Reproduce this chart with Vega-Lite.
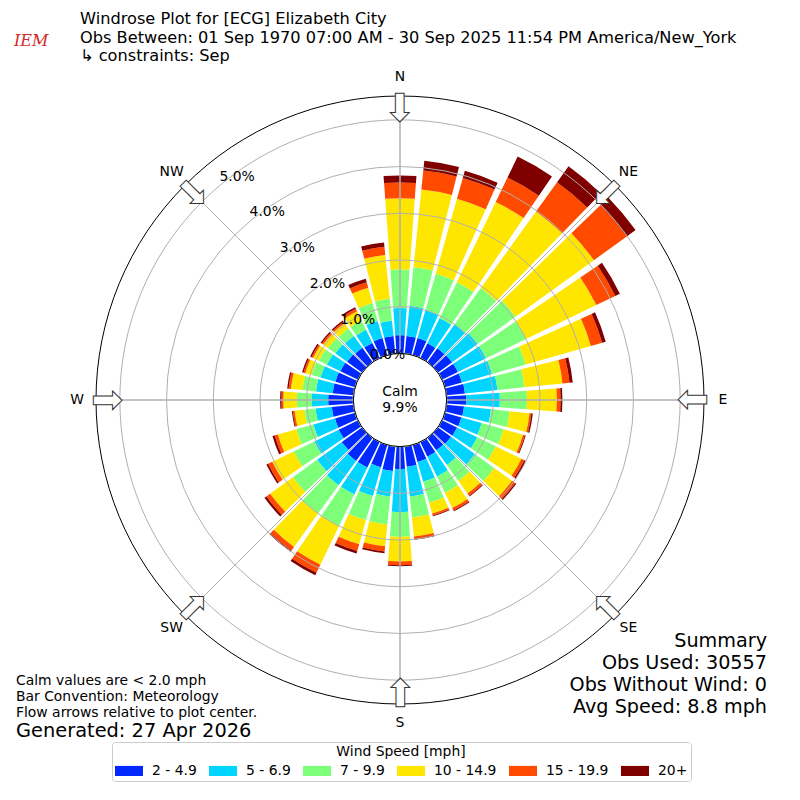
{
  "$schema": "https://vega.github.io/schema/vega-lite/v6.json",
  "width": 800,
  "height": 800,
  "autosize": {"type": "none"},
  "padding": 0,
  "background": "white",
  "config": {
    "view": {"stroke": null},
    "font": "DejaVu Sans",
    "text": {"font": "DejaVu Sans", "fontSize": 13.9, "color": "black"}
  },
  "datasets": {
    "rose": [
      {"dir": 0, "speed": "2 - 4.9", "pct": 0.39}, {"dir": 0, "speed": "5 - 6.9", "pct": 0.58}, {"dir": 0, "speed": "7 - 9.9", "pct": 0.83}, {"dir": 0, "speed": "10 - 14.9", "pct": 1.52}, {"dir": 0, "speed": "15 - 19.9", "pct": 0.34}, {"dir": 0, "speed": "20+", "pct": 0.15},
      {"dir": 10, "speed": "2 - 4.9", "pct": 0.38}, {"dir": 10, "speed": "5 - 6.9", "pct": 0.65}, {"dir": 10, "speed": "7 - 9.9", "pct": 0.83}, {"dir": 10, "speed": "10 - 14.9", "pct": 1.67}, {"dir": 10, "speed": "15 - 19.9", "pct": 0.41}, {"dir": 10, "speed": "20+", "pct": 0.21},
      {"dir": 20, "speed": "2 - 4.9", "pct": 0.38}, {"dir": 20, "speed": "5 - 6.9", "pct": 0.62}, {"dir": 20, "speed": "7 - 9.9", "pct": 0.81}, {"dir": 20, "speed": "10 - 14.9", "pct": 1.67}, {"dir": 20, "speed": "15 - 19.9", "pct": 0.46}, {"dir": 20, "speed": "20+", "pct": 0.16},
      {"dir": 30, "speed": "2 - 4.9", "pct": 0.35}, {"dir": 30, "speed": "5 - 6.9", "pct": 0.60}, {"dir": 30, "speed": "7 - 9.9", "pct": 0.85}, {"dir": 30, "speed": "10 - 14.9", "pct": 1.91}, {"dir": 30, "speed": "15 - 19.9", "pct": 0.58}, {"dir": 30, "speed": "20+", "pct": 0.50},
      {"dir": 40, "speed": "2 - 4.9", "pct": 0.37}, {"dir": 40, "speed": "5 - 6.9", "pct": 0.63}, {"dir": 40, "speed": "7 - 9.9", "pct": 0.96}, {"dir": 40, "speed": "10 - 14.9", "pct": 2.02}, {"dir": 40, "speed": "15 - 19.9", "pct": 0.77}, {"dir": 40, "speed": "20+", "pct": 0.42},
      {"dir": 50, "speed": "2 - 4.9", "pct": 0.38}, {"dir": 50, "speed": "5 - 6.9", "pct": 0.67}, {"dir": 50, "speed": "7 - 9.9", "pct": 1.00}, {"dir": 50, "speed": "10 - 14.9", "pct": 2.07}, {"dir": 50, "speed": "15 - 19.9", "pct": 0.87}, {"dir": 50, "speed": "20+", "pct": 0.23},
      {"dir": 60, "speed": "2 - 4.9", "pct": 0.38}, {"dir": 60, "speed": "5 - 6.9", "pct": 0.67}, {"dir": 60, "speed": "7 - 9.9", "pct": 0.95}, {"dir": 60, "speed": "10 - 14.9", "pct": 1.67}, {"dir": 60, "speed": "15 - 19.9", "pct": 0.45}, {"dir": 60, "speed": "20+", "pct": 0.11},
      {"dir": 70, "speed": "2 - 4.9", "pct": 0.38}, {"dir": 70, "speed": "5 - 6.9", "pct": 0.67}, {"dir": 70, "speed": "7 - 9.9", "pct": 0.75}, {"dir": 70, "speed": "10 - 14.9", "pct": 1.45}, {"dir": 70, "speed": "15 - 19.9", "pct": 0.25}, {"dir": 70, "speed": "20+", "pct": 0.08},
      {"dir": 80, "speed": "2 - 4.9", "pct": 0.40}, {"dir": 80, "speed": "5 - 6.9", "pct": 0.70}, {"dir": 80, "speed": "7 - 9.9", "pct": 0.58}, {"dir": 80, "speed": "10 - 14.9", "pct": 0.82}, {"dir": 80, "speed": "15 - 19.9", "pct": 0.15}, {"dir": 80, "speed": "20+", "pct": 0.07},
      {"dir": 90, "speed": "2 - 4.9", "pct": 0.42}, {"dir": 90, "speed": "5 - 6.9", "pct": 0.72}, {"dir": 90, "speed": "7 - 9.9", "pct": 0.58}, {"dir": 90, "speed": "10 - 14.9", "pct": 0.64}, {"dir": 90, "speed": "15 - 19.9", "pct": 0.08}, {"dir": 90, "speed": "20+", "pct": 0.04},
      {"dir": 100, "speed": "2 - 4.9", "pct": 0.38}, {"dir": 100, "speed": "5 - 6.9", "pct": 0.58}, {"dir": 100, "speed": "7 - 9.9", "pct": 0.40}, {"dir": 100, "speed": "10 - 14.9", "pct": 0.43}, {"dir": 100, "speed": "15 - 19.9", "pct": 0.04}, {"dir": 100, "speed": "20+", "pct": 0.03},
      {"dir": 110, "speed": "2 - 4.9", "pct": 0.37}, {"dir": 110, "speed": "5 - 6.9", "pct": 0.45}, {"dir": 110, "speed": "7 - 9.9", "pct": 0.49}, {"dir": 110, "speed": "10 - 14.9", "pct": 0.43}, {"dir": 110, "speed": "15 - 19.9", "pct": 0.04}, {"dir": 110, "speed": "20+", "pct": 0.02},
      {"dir": 120, "speed": "2 - 4.9", "pct": 0.36}, {"dir": 120, "speed": "5 - 6.9", "pct": 0.48}, {"dir": 120, "speed": "7 - 9.9", "pct": 0.44}, {"dir": 120, "speed": "10 - 14.9", "pct": 0.61}, {"dir": 120, "speed": "15 - 19.9", "pct": 0.07}, {"dir": 120, "speed": "20+", "pct": 0.04},
      {"dir": 130, "speed": "2 - 4.9", "pct": 0.35}, {"dir": 130, "speed": "5 - 6.9", "pct": 0.63}, {"dir": 130, "speed": "7 - 9.9", "pct": 0.51}, {"dir": 130, "speed": "10 - 14.9", "pct": 0.47}, {"dir": 130, "speed": "15 - 19.9", "pct": 0.08}, {"dir": 130, "speed": "20+", "pct": 0.03},
      {"dir": 140, "speed": "2 - 4.9", "pct": 0.33}, {"dir": 140, "speed": "5 - 6.9", "pct": 0.39}, {"dir": 140, "speed": "7 - 9.9", "pct": 0.42}, {"dir": 140, "speed": "10 - 14.9", "pct": 0.33}, {"dir": 140, "speed": "15 - 19.9", "pct": 0.06}, {"dir": 140, "speed": "20+", "pct": 0.02},
      {"dir": 150, "speed": "2 - 4.9", "pct": 0.35}, {"dir": 150, "speed": "5 - 6.9", "pct": 0.47}, {"dir": 150, "speed": "7 - 9.9", "pct": 0.39}, {"dir": 150, "speed": "10 - 14.9", "pct": 0.36}, {"dir": 150, "speed": "15 - 19.9", "pct": 0.06}, {"dir": 150, "speed": "20+", "pct": 0.02},
      {"dir": 160, "speed": "2 - 4.9", "pct": 0.38}, {"dir": 160, "speed": "5 - 6.9", "pct": 0.44}, {"dir": 160, "speed": "7 - 9.9", "pct": 0.47}, {"dir": 160, "speed": "10 - 14.9", "pct": 0.24}, {"dir": 160, "speed": "15 - 19.9", "pct": 0.04}, {"dir": 160, "speed": "20+", "pct": 0.02},
      {"dir": 170, "speed": "2 - 4.9", "pct": 0.44}, {"dir": 170, "speed": "5 - 6.9", "pct": 0.64}, {"dir": 170, "speed": "7 - 9.9", "pct": 0.45}, {"dir": 170, "speed": "10 - 14.9", "pct": 0.41}, {"dir": 170, "speed": "15 - 19.9", "pct": 0.05}, {"dir": 170, "speed": "20+", "pct": 0.02},
      {"dir": 180, "speed": "2 - 4.9", "pct": 0.48}, {"dir": 180, "speed": "5 - 6.9", "pct": 0.92}, {"dir": 180, "speed": "7 - 9.9", "pct": 0.53}, {"dir": 180, "speed": "10 - 14.9", "pct": 0.53}, {"dir": 180, "speed": "15 - 19.9", "pct": 0.08}, {"dir": 180, "speed": "20+", "pct": 0.02},
      {"dir": 190, "speed": "2 - 4.9", "pct": 0.53}, {"dir": 190, "speed": "5 - 6.9", "pct": 0.55}, {"dir": 190, "speed": "7 - 9.9", "pct": 0.60}, {"dir": 190, "speed": "10 - 14.9", "pct": 0.47}, {"dir": 190, "speed": "15 - 19.9", "pct": 0.11}, {"dir": 190, "speed": "20+", "pct": 0.04},
      {"dir": 200, "speed": "2 - 4.9", "pct": 0.50}, {"dir": 200, "speed": "5 - 6.9", "pct": 0.64}, {"dir": 200, "speed": "7 - 9.9", "pct": 0.54}, {"dir": 200, "speed": "10 - 14.9", "pct": 0.53}, {"dir": 200, "speed": "15 - 19.9", "pct": 0.15}, {"dir": 200, "speed": "20+", "pct": 0.06},
      {"dir": 210, "speed": "2 - 4.9", "pct": 0.61}, {"dir": 210, "speed": "5 - 6.9", "pct": 0.64}, {"dir": 210, "speed": "7 - 9.9", "pct": 0.75}, {"dir": 210, "speed": "10 - 14.9", "pct": 0.92}, {"dir": 210, "speed": "15 - 19.9", "pct": 0.19}, {"dir": 210, "speed": "20+", "pct": 0.06},
      {"dir": 220, "speed": "2 - 4.9", "pct": 0.61}, {"dir": 220, "speed": "5 - 6.9", "pct": 0.64}, {"dir": 220, "speed": "7 - 9.9", "pct": 0.75}, {"dir": 220, "speed": "10 - 14.9", "pct": 0.88}, {"dir": 220, "speed": "15 - 19.9", "pct": 0.10}, {"dir": 220, "speed": "20+", "pct": 0.03},
      {"dir": 230, "speed": "2 - 4.9", "pct": 0.54}, {"dir": 230, "speed": "5 - 6.9", "pct": 0.65}, {"dir": 230, "speed": "7 - 9.9", "pct": 0.64}, {"dir": 230, "speed": "10 - 14.9", "pct": 0.60}, {"dir": 230, "speed": "15 - 19.9", "pct": 0.10}, {"dir": 230, "speed": "20+", "pct": 0.05},
      {"dir": 240, "speed": "2 - 4.9", "pct": 0.46}, {"dir": 240, "speed": "5 - 6.9", "pct": 0.58}, {"dir": 240, "speed": "7 - 9.9", "pct": 0.49}, {"dir": 240, "speed": "10 - 14.9", "pct": 0.51}, {"dir": 240, "speed": "15 - 19.9", "pct": 0.10}, {"dir": 240, "speed": "20+", "pct": 0.04},
      {"dir": 250, "speed": "2 - 4.9", "pct": 0.45}, {"dir": 250, "speed": "5 - 6.9", "pct": 0.48}, {"dir": 250, "speed": "7 - 9.9", "pct": 0.38}, {"dir": 250, "speed": "10 - 14.9", "pct": 0.41}, {"dir": 250, "speed": "15 - 19.9", "pct": 0.07}, {"dir": 250, "speed": "20+", "pct": 0.05},
      {"dir": 260, "speed": "2 - 4.9", "pct": 0.47}, {"dir": 260, "speed": "5 - 6.9", "pct": 0.35}, {"dir": 260, "speed": "7 - 9.9", "pct": 0.24}, {"dir": 260, "speed": "10 - 14.9", "pct": 0.21}, {"dir": 260, "speed": "15 - 19.9", "pct": 0.04}, {"dir": 260, "speed": "20+", "pct": 0.02},
      {"dir": 270, "speed": "2 - 4.9", "pct": 0.54}, {"dir": 270, "speed": "5 - 6.9", "pct": 0.35}, {"dir": 270, "speed": "7 - 9.9", "pct": 0.32}, {"dir": 270, "speed": "10 - 14.9", "pct": 0.29}, {"dir": 270, "speed": "15 - 19.9", "pct": 0.04}, {"dir": 270, "speed": "20+", "pct": 0.03},
      {"dir": 280, "speed": "2 - 4.9", "pct": 0.45}, {"dir": 280, "speed": "5 - 6.9", "pct": 0.36}, {"dir": 280, "speed": "7 - 9.9", "pct": 0.29}, {"dir": 280, "speed": "10 - 14.9", "pct": 0.25}, {"dir": 280, "speed": "15 - 19.9", "pct": 0.05}, {"dir": 280, "speed": "20+", "pct": 0.03},
      {"dir": 290, "speed": "2 - 4.9", "pct": 0.44}, {"dir": 290, "speed": "5 - 6.9", "pct": 0.33}, {"dir": 290, "speed": "7 - 9.9", "pct": 0.20}, {"dir": 290, "speed": "10 - 14.9", "pct": 0.14}, {"dir": 290, "speed": "15 - 19.9", "pct": 0.04}, {"dir": 290, "speed": "20+", "pct": 0.03},
      {"dir": 300, "speed": "2 - 4.9", "pct": 0.42}, {"dir": 300, "speed": "5 - 6.9", "pct": 0.32}, {"dir": 300, "speed": "7 - 9.9", "pct": 0.19}, {"dir": 300, "speed": "10 - 14.9", "pct": 0.14}, {"dir": 300, "speed": "15 - 19.9", "pct": 0.04}, {"dir": 300, "speed": "20+", "pct": 0.03},
      {"dir": 310, "speed": "2 - 4.9", "pct": 0.40}, {"dir": 310, "speed": "5 - 6.9", "pct": 0.31}, {"dir": 310, "speed": "7 - 9.9", "pct": 0.19}, {"dir": 310, "speed": "10 - 14.9", "pct": 0.13}, {"dir": 310, "speed": "15 - 19.9", "pct": 0.04}, {"dir": 310, "speed": "20+", "pct": 0.03},
      {"dir": 320, "speed": "2 - 4.9", "pct": 0.38}, {"dir": 320, "speed": "5 - 6.9", "pct": 0.31}, {"dir": 320, "speed": "7 - 9.9", "pct": 0.20}, {"dir": 320, "speed": "10 - 14.9", "pct": 0.14}, {"dir": 320, "speed": "15 - 19.9", "pct": 0.04}, {"dir": 320, "speed": "20+", "pct": 0.03},
      {"dir": 330, "speed": "2 - 4.9", "pct": 0.36}, {"dir": 330, "speed": "5 - 6.9", "pct": 0.31}, {"dir": 330, "speed": "7 - 9.9", "pct": 0.22}, {"dir": 330, "speed": "10 - 14.9", "pct": 0.22}, {"dir": 330, "speed": "15 - 19.9", "pct": 0.06}, {"dir": 330, "speed": "20+", "pct": 0.04},
      {"dir": 340, "speed": "2 - 4.9", "pct": 0.38}, {"dir": 340, "speed": "5 - 6.9", "pct": 0.38}, {"dir": 340, "speed": "7 - 9.9", "pct": 0.40}, {"dir": 340, "speed": "10 - 14.9", "pct": 0.34}, {"dir": 340, "speed": "15 - 19.9", "pct": 0.12}, {"dir": 340, "speed": "20+", "pct": 0.08},
      {"dir": 350, "speed": "2 - 4.9", "pct": 0.38}, {"dir": 350, "speed": "5 - 6.9", "pct": 0.33}, {"dir": 350, "speed": "7 - 9.9", "pct": 0.47}, {"dir": 350, "speed": "10 - 14.9", "pct": 0.94}, {"dir": 350, "speed": "15 - 19.9", "pct": 0.18}, {"dir": 350, "speed": "20+", "pct": 0.09}
    ],
    "compass": [
      {"dir": 0, "name": "N"}, {"dir": 45, "name": "NE"}, {"dir": 90, "name": "E"}, {"dir": 135, "name": "SE"},
      {"dir": 180, "name": "S"}, {"dir": 225, "name": "SW"}, {"dir": 270, "name": "W"}, {"dir": 315, "name": "NW"}
    ],
    "rings": [
      {"level": 0, "label": "0.0%"}, {"level": 1, "label": "1.0%"}, {"level": 2, "label": "2.0%"},
      {"level": 3, "label": "3.0%"}, {"level": 4, "label": "4.0%"}, {"level": 5, "label": "5.0%"}
    ]
  },
  "layer": [
    {
      "data": {"name": "rose"},
      "transform": [{"stack": "pct", "groupby": ["dir"], "as": ["r0", "r1"]}],
      "mark": {"type": "arc", "thetaOffset": -0.0733, "theta2Offset": 0.0733},
      "encoding": {
        "theta": {"field": "dir", "type": "quantitative", "scale": {"domain": [0, 360], "range": [0, 6.283185]}},
        "theta2": {"field": "dir"},
        "radius": {"field": "r1", "type": "quantitative", "scale": {"type": "linear", "domain": [0, 5.51], "range": [46.6, 304], "zero": false}},
        "radius2": {"field": "r0"},
        "color": {
          "field": "speed",
          "type": "nominal",
          "scale": {
            "domain": ["2 - 4.9", "5 - 6.9", "7 - 9.9", "10 - 14.9", "15 - 19.9", "20+"],
            "range": ["#0028ff", "#00d4ff", "#7dff7a", "#ffe600", "#ff4a00", "#800000"]
          },
          "legend": {
            "title": "Wind Speed [mph]",
            "orient": "none",
            "legendX": 112,
            "legendY": 742,
            "direction": "horizontal",
            "titleAnchor": "middle",
            "titleFontWeight": "normal",
            "titleFontSize": 13.9,
            "titleColor": "black",
            "titlePadding": -2,
            "labelFontSize": 13.9,
            "labelColor": "black",
            "symbolType": "M-1,-0.36L1,-0.36L1,0.36L-1,0.36Z",
            "symbolSize": 784,
            "symbolStrokeWidth": 0,
            "symbolOpacity": 1,
            "labelOffset": 9,
            "columnPadding": 12,
            "padding": 3,
            "strokeColor": "#cccccc",
            "fillColor": "white",
            "cornerRadius": 3
          }
        }
      }
    },
    {
      "data": {"name": "rings"},
      "transform": [{"filter": "datum.level > 0"}],
      "mark": {"type": "arc", "theta": 0, "theta2": 6.3, "fill": "transparent", "stroke": "#b0b0b0", "strokeWidth": 1},
      "encoding": {"radius": {"field": "level", "type": "quantitative", "stack": null}}
    },
    {
      "data": {"name": "compass"},
      "mark": {"type": "arc", "fill": "transparent", "stroke": "#b0b0b0", "strokeWidth": 1},
      "encoding": {
        "theta": {"field": "dir", "type": "quantitative"},
        "theta2": {"field": "dir"},
        "radius": {"value": 304},
        "radius2": {"value": 46.6}
      }
    },
    {
      "data": {"values": [{}]},
      "mark": {"type": "arc", "theta": 0, "theta2": 6.3, "radius": 304, "fill": "transparent", "stroke": "black", "strokeWidth": 1},
      "encoding": {}
    },
    {
      "data": {"values": [{}]},
      "mark": {"type": "arc", "theta": 0, "theta2": 6.3, "radius": 46.6, "fill": "white", "stroke": "black", "strokeWidth": 1},
      "encoding": {}
    },
    {
      "data": {"name": "rings"},
      "mark": {"type": "text", "theta": -0.70, "align": "left", "baseline": "bottom", "dy": -2},
      "encoding": {
        "radius": {"field": "level", "type": "quantitative"},
        "text": {"field": "label"}
      }
    },
    {
      "data": {"name": "compass"},
      "mark": {"type": "text", "align": "center", "baseline": "middle"},
      "encoding": {
        "theta": {"field": "dir", "type": "quantitative"},
        "radius": {"value": 323},
        "text": {"field": "name"}
      }
    },
    {
      "data": {"name": "compass"},
      "mark": {"type": "text", "text": "⬇", "fontSize": 38, "fill": "white", "stroke": "#333333", "strokeWidth": 1, "align": "center", "baseline": "middle"},
      "encoding": {
        "theta": {"field": "dir", "type": "quantitative"},
        "radius": {"value": 290},
        "angle": {"field": "dir", "type": "quantitative", "scale": null}
      }
    },
    {
      "data": {"values": [{}]},
      "mark": {"type": "text", "x": 400, "y": 396, "align": "center", "baseline": "alphabetic", "lineHeight": 16, "text": ["Calm", "9.9%"]}
    },
    {
      "data": {"values": [{}]},
      "mark": {"type": "text", "x": 80, "y": 24, "align": "left", "baseline": "alphabetic", "fontSize": 16.2, "text": "Windrose Plot for [ECG] Elizabeth City"}
    },
    {
      "data": {"values": [{}]},
      "mark": {"type": "text", "x": 80, "y": 42.5, "align": "left", "baseline": "alphabetic", "fontSize": 16.2, "text": "Obs Between: 01 Sep 1970 07:00 AM - 30 Sep 2025 11:54 PM America/New_York"}
    },
    {
      "data": {"values": [{}]},
      "mark": {"type": "text", "x": 80, "y": 61, "align": "left", "baseline": "alphabetic", "fontSize": 16.2, "text": " ↳ constraints: Sep"}
    },
    {
      "data": {"values": [{}]},
      "mark": {"type": "text", "x": 14, "y": 46, "align": "left", "baseline": "alphabetic", "font": "DejaVu Serif", "fontStyle": "italic", "fontSize": 16, "color": "#d02828", "text": "IEM"}
    },
    {
      "data": {"values": [{}]},
      "mark": {
        "type": "text", "x": 16, "y": 685, "align": "left", "baseline": "alphabetic", "fontSize": 13.9, "lineHeight": 16,
        "text": ["Calm values are < 2.0 mph", "Bar Convention: Meteorology", "Flow arrows relative to plot center."]
      }
    },
    {
      "data": {"values": [{}]},
      "mark": {"type": "text", "x": 16, "y": 737, "align": "left", "baseline": "alphabetic", "fontSize": 19.4, "text": "Generated: 27 Apr 2026"}
    },
    {
      "data": {"values": [{}]},
      "mark": {
        "type": "text", "x": 767, "y": 647, "align": "right", "baseline": "alphabetic", "fontSize": 19.2, "lineHeight": 22,
        "text": ["Summary", "Obs Used: 30557", "Obs Without Wind: 0", "Avg Speed: 8.8 mph"]
      }
    }
  ]
}
